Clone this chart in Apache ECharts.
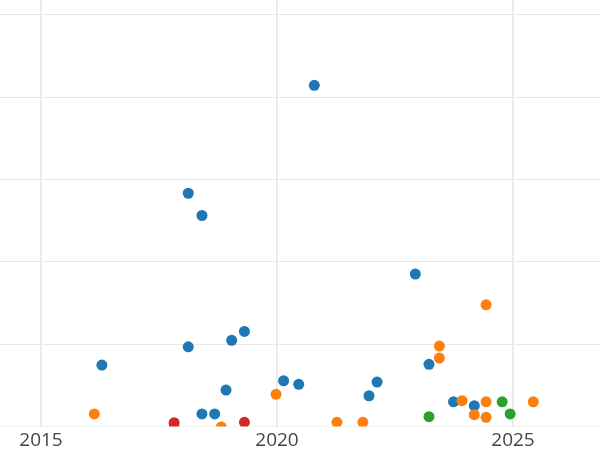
<!DOCTYPE html>
<html>
<head>
<meta charset="utf-8">
<style>
  html, body { margin: 0; padding: 0; background: #ffffff; overflow: hidden; width: 600px; height: 450px; }
  /* the reference is a crop of a wider plot, so the chart box runs past the window */
  #chart { position: absolute; left: -195px; top: -68px; width: 944px; height: 518px; }
</style>
<script src="https://cdn.jsdelivr.net/npm/echarts@6/dist/echarts.min.js"></script>
</head>
<body>
<div id="chart"></div>
<script>
  // year (x), value (y) for each group
  const blueX = [2020.79, 2018.12, 2018.41, 2022.93, 2016.29, 2018.12, 2019.04, 2019.31, 2018.92, 2018.41, 2018.68, 2020.14, 2020.46, 2022.12, 2021.95, 2023.22, 2023.74, 2024.18]
  const blueY = [41.4, 28.3, 25.6, 18.5, 7.45, 9.67, 10.45, 11.54, 4.42, 1.52, 1.52, 5.55, 5.12, 5.39, 3.73, 7.54, 3.0, 2.52]
  const orangeX = [2016.13, 2018.82, 2019.98, 2021.27, 2021.82, 2023.44, 2023.44, 2024.43, 2023.92, 2024.43, 2024.18, 2024.43, 2025.43]
  const orangeY = [1.52, -0.06, 3.9, 0.51, 0.51, 9.76, 8.3, 14.76, 3.13, 3.0, 1.43, 1.12, 3.0]
  const greenX = [2023.22, 2024.77, 2024.94]
  const greenY = [1.19, 3.0, 1.52]
  const redX = [2017.82, 2017.82, 2019.31]
  const redY = [0.46, -0.18, 0.51]

  const xTicks = ['2010', '2015', '2020', '2025', '2030']

  const pairs = (xs, ys) => xs.map((x, i) => [x, ys[i]])

  const chart = echarts.init(document.getElementById('chart'))
  const W = 944, H = 518, BOTTOM = 23.5

  const makeSeries = (name, xs, ys, color) => ({
    name: name,
    type: 'scatter',
    xAxisIndex: 0,
    yAxisIndex: 0,
    symbolSize: 11,
    clip: false,
    z: 2,
    itemStyle: { color: color, opacity: 1 },
    data: pairs(xs, ys)
  })

  const xBase = {
    type: 'value',
    position: 'bottom',
    min: Number(xTicks[0]),
    max: Number(xTicks[xTicks.length - 1]),
    interval: 5,
    axisLine: { show: false },
    axisTick: { show: false }
  }

  chart.setOption({
    backgroundColor: '#ffffff',
    animation: false,
    grid: { left: 0, right: 0, top: 0, bottom: BOTTOM, containLabel: false, outerBoundsMode: 'none' },
    xAxis: [
      Object.assign({}, xBase, {
        z: 0,
        axisLabel: { show: false },
        splitLine: { show: true, lineStyle: { color: '#ebebeb', width: 2 } }
      }),
      Object.assign({}, xBase, {
        z: 10,
        axisLabel: {
          margin: 5,
          color: '#444444',
          fontSize: 19,
          fontFamily: 'Open Sans',
          formatter: (v) => String(v)
        },
        splitLine: { show: false }
      })
    ],
    yAxis: {
      type: 'value',
      min: 0,
      max: 60,
      interval: 10,
      z: 0,
      axisLine: { show: false },
      axisTick: { show: false },
      axisLabel: { show: false },
      splitLine: { show: true, lineStyle: { color: '#e8e8e8', width: 1.2 } }
    },
    // white strip under the plot area so marks sitting on the lower edge look cut off
    graphic: [{
      type: 'rect',
      z: 5,
      silent: true,
      shape: { x: 0, y: H - BOTTOM, width: W, height: BOTTOM },
      style: { fill: '#ffffff' }
    }],
    series: [
      makeSeries('blue', blueX, blueY, '#1f77b4'),
      makeSeries('orange', orangeX, orangeY, '#ff7f0e'),
      makeSeries('green', greenX, greenY, '#2ca02c'),
      makeSeries('red', redX, redY, '#d62728')
    ]
  })
</script>
</body>
</html>
